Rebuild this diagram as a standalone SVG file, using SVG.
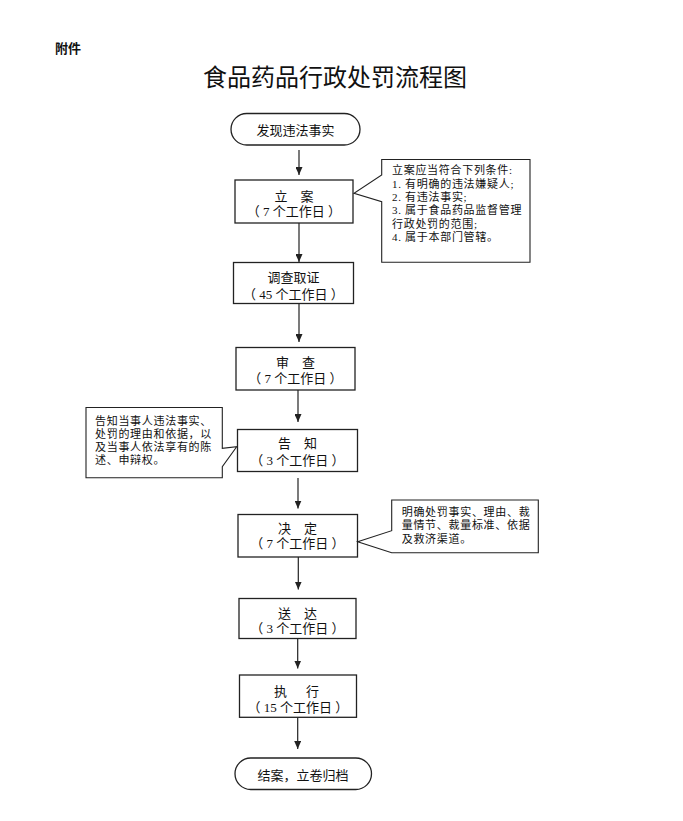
<svg xmlns="http://www.w3.org/2000/svg" width="683" height="821" viewBox="0 0 683 821">
<defs>
<style>
.bg{fill:#ffffff}
.box{fill:#ffffff;stroke:#222;stroke-width:1.3}
.note{fill:#ffffff;stroke:#222;stroke-width:1.1}
.conn{stroke:#222;stroke-width:1.2;fill:none}
.h{font-family:"Noto Sans CJK SC","Liberation Sans",sans-serif;fill:#111}
.t{font-family:"Liberation Serif","Noto Sans CJK SC",serif;fill:#111}
.bt{font-size:13px;text-anchor:middle}
.nt{font-size:11px;letter-spacing:0.7px}
</style>
<marker id="ah" markerWidth="8" markerHeight="7" refX="8" refY="3.5" orient="auto" markerUnits="userSpaceOnUse">
<path d="M0,0 L8,3.5 L0,7 Z" fill="#222"/>
</marker>
</defs>
<rect class="bg" x="0" y="0" width="683" height="821"/>

<text class="h" x="55" y="53" font-size="13" font-weight="bold">附件</text>
<text class="h" x="335" y="86" font-size="24" text-anchor="middle">食品药品行政处罚流程图</text>

<g id="connectors">
<line class="conn" x1="299" y1="150" x2="299" y2="175" marker-end="url(#ah)"/>
<line class="conn" x1="299" y1="223" x2="299" y2="262" marker-end="url(#ah)"/>
<line class="conn" x1="299" y1="304" x2="299" y2="342" marker-end="url(#ah)"/>
<line class="conn" x1="298" y1="390" x2="298" y2="422" marker-end="url(#ah)"/>
<line class="conn" x1="298" y1="478" x2="298" y2="508.5" marker-end="url(#ah)"/>
<line class="conn" x1="298.3" y1="557" x2="298.3" y2="589.5" marker-end="url(#ah)"/>
<line class="conn" x1="297.7" y1="639" x2="297.7" y2="668.5" marker-end="url(#ah)"/>
<line class="conn" x1="297.7" y1="717.5" x2="297.7" y2="749" marker-end="url(#ah)"/>
</g>

<g id="start">
<rect class="box" x="231" y="113.5" width="129" height="31.5" rx="15.75"/>
<text class="t bt" x="295.5" y="135">发现违法事实</text>
</g>

<g id="lian">
<rect class="box" x="235" y="180" width="118" height="43"/>
<text class="t bt" x="294" y="201">立　案<tspan x="294" dy="15.2">（ 7 个工作日 ）</tspan></text>
</g>

<g id="note-lian">
<path class="note" d="M381.7,159.5 L381.7,175 L354,193.3 L381.7,201.7 L381.7,262.3 L530,262.3 L530,159.5 Z"/>
<text class="t nt" x="392" y="174.2">立案应当符合下列条件:<tspan x="392" dy="13.3">1. 有明确的违法嫌疑人;</tspan><tspan x="392" dy="13.4">2. 有违法事实;</tspan><tspan x="392" dy="13.3">3. 属于食品药品监督管理</tspan><tspan x="392" dy="13.3">行政处罚的范围;</tspan><tspan x="392" dy="13.4">4. 属于本部门管辖。</tspan></text>
</g>

<g id="diaocha">
<rect class="box" x="233.5" y="262.5" width="120" height="41"/>
<text class="t bt" x="293.5" y="281.7">调查取证<tspan x="293.5" dy="17.3">（ 45 个工作日 ）</tspan></text>
</g>

<g id="shencha">
<rect class="box" x="236" y="347.5" width="119" height="42.5"/>
<text class="t bt" x="295.5" y="366.7">审　查<tspan x="295.5" dy="16.3">（ 7 个工作日 ）</tspan></text>
</g>

<g id="gaozhi">
<rect class="box" x="237.5" y="429.5" width="120" height="42"/>
<text class="t bt" x="297.5" y="448">告　知<tspan x="297.5" dy="17">（ 3 个工作日 ）</tspan></text>
</g>

<g id="note-gaozhi">
<path class="note" d="M86,407.5 L222.3,407.5 L222.3,448.3 L236.7,446.7 L222.3,466.7 L222.3,477.7 L86,477.7 Z"/>
<text class="t nt" x="95" y="424.9">告知当事人违法事实、<tspan x="95" dy="12.9">处罚的理由和依据，以</tspan><tspan x="95" dy="13.3">及当事人依法享有的陈</tspan><tspan x="95" dy="13.3">述、申辩权。</tspan></text>
</g>

<g id="jueding">
<rect class="box" x="238" y="514.5" width="119.5" height="42.5"/>
<text class="t bt" x="297.5" y="533">决　定<tspan x="297.5" dy="15.3">（ 7 个工作日 ）</tspan></text>
</g>

<g id="note-jueding">
<path class="note" d="M391.7,500 L391.7,530.7 L357.7,541.7 L391.7,552.7 L538.3,552.7 L538.3,500 Z"/>
<text class="t nt" x="401.7" y="515.9" letter-spacing="0.8">明确处罚事实、理由、裁<tspan x="401.7" dy="13">量情节、裁量标准、依据</tspan><tspan x="401.7" dy="13.6">及救济渠道。</tspan></text>
</g>

<g id="songda">
<rect class="box" x="239" y="598.5" width="117" height="40"/>
<text class="t bt" x="297.5" y="618">送　达<tspan x="297.5" dy="15.3">（ 3 个工作日 ）</tspan></text>
</g>

<g id="zhixing">
<rect class="box" x="239.5" y="675" width="117" height="42.3"/>
<text class="t bt" x="298" y="695.7"><tspan letter-spacing="3">执　行</tspan><tspan x="298" dy="16">（ 15 个工作日 ）</tspan></text>
</g>

<g id="end">
<rect class="box" x="235" y="758" width="136.5" height="31.5" rx="15.75"/>
<text class="t bt" x="303" y="780">结案，立卷归档</text>
</g>
</svg>
